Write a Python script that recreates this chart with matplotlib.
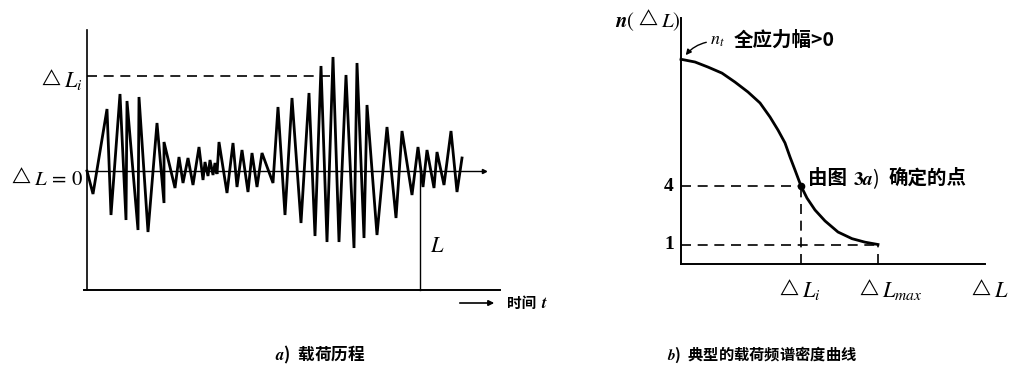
import matplotlib
matplotlib.use('Agg')
import matplotlib.pyplot as plt

plt.rcParams['font.family'] = ['Noto Sans CJK SC', 'DejaVu Sans']
plt.rcParams['mathtext.fontset'] = 'stix'

# a) load history: time t vs load range dL (read off the scan)
time_t = [0, 0.6, 2.0, 2.4, 3.3, 3.9, 4.0, 5.1, 5.2, 6.1,
          7.0, 7.7, 7.7, 8.8, 9.2, 9.6, 10.1, 10.6, 11.2, 11.6,
          11.8, 12.1, 12.3, 12.6, 12.8, 13.0, 13.2, 14.0, 14.6, 15.0,
          15.5, 16.1, 16.5, 17.0, 17.5, 18.6, 19.1, 19.8, 20.5, 21.4,
          22.2, 22.8, 23.4, 24.0, 24.6, 25.2, 25.9, 26.7, 27.0, 27.7,
          28.0, 29.0, 30.0, 30.9, 31.5, 32.5, 33.1, 33.6, 34.0, 34.7,
          35.0, 35.7, 36.4, 37.0, 37.5]
load_dl = [0, -2.3, 6.2, -4.4, 7.7, -4.9, 7.0, -5.9, 7.4, -6.1,
           4.8, -3.2, 2.9, -1.7, 1.4, -1.2, 1.3, -1.4, 2.4, -0.9,
           0.9, -0.5, 1.1, -0.4, 0.8, -0.3, 2.9, -2.2, 2.8, -1.6,
           2.1, -2.1, 1.8, -1.6, 1.8, -1.2, 6.4, -4.4, 7.3, -5.2,
           7.8, -6.5, 10.5, -7.1, 11.4, -7.1, 9.6, -7.7, 10.8, -6.7,
           6.6, -6.4, 4.4, -4.7, 4.0, -2.4, 2.4, -1.6, 2.1, -1.7,
           1.9, -1.4, 4.0, -2.1, 1.3]
dl_i = 9.5          # level of dL_i
t_dli_end = 24.3    # where the dashed dL_i line stops
t_L = 33.3          # record length L
t_end = 39.7
y_top = 14.1
y_bot = -11.9

# b) load spectrum density curve n(dL)
spec_dl = [0, 1.4, 2.7, 4.1, 5.4, 6.7, 7.9, 8.9, 9.7, 10.4,
           10.9, 11.4, 12.0, 12.6, 13.4, 14.4, 15.7, 17.1, 18.4, 19.7]
spec_n = [10.5, 10.36, 10.1, 9.79, 9.33, 8.82, 8.26, 7.54, 6.87, 6.21,
          5.49, 4.82, 4.0, 3.38, 2.77, 2.21, 1.64, 1.3, 1.12, 1.0]
dl_point = 12.0
n_point = 4
dl_max = 19.7
n_max = 1
n_axis_top = 12.6
dl_axis_end = 30.4


def dl_label(axis, x, y, suffix, prefix=None, size=15, tri=12):
    # triangle + italic L, the triangle sits on the baseline at (x, y)
    tri_t = axis.text(x, y, r'$\triangle$', fontsize=tri, ha='left',
                      va='baseline', clip_on=False)
    axis.annotate(suffix, xy=(1, 0), xycoords=tri_t, xytext=(1.5, 0),
                  textcoords='offset points', fontsize=size, ha='left',
                  va='baseline')
    if prefix:
        axis.annotate(prefix, xy=(0, 0), xycoords=tri_t, xytext=(-1, 0),
                      textcoords='offset points', fontsize=size, ha='right',
                      va='baseline')


fig = plt.figure(figsize=(10.1, 3.69), dpi=100)
W, H = 1010, 369

# ---------- panel a ----------
ax = fig.add_axes([60 / W, 1 - 300 / H, 500 / W, 280 / H])
ax.set_xlim(-2.7, 47.3)
ax.set_ylim(-12.9, 15.1)
ax.axis('off')
ax.plot([0, 0], [y_bot, y_top], color='black', lw=1.2)
ax.plot([-0.3, 41.3], [y_bot, y_bot], color='black', lw=1.4)
ax.plot([0, t_end], [0, 0], color='black', lw=1.0)
ax.plot([t_end], [0], marker='>', ms=3, color='black')
ax.plot([0, t_dli_end], [dl_i, dl_i], color='black', lw=1.2, dashes=(6, 4))
ax.plot([t_L, t_L], [0, y_bot], color='black', lw=1.0)
ax.plot(time_t, load_dl, color='black', lw=2.0, solid_joinstyle='miter')

dl_label(ax, -4.8, 8.8, r'$L_i$', size=16)
dl_label(ax, -7.8, -1.0, r'$L\,=\,0$', size=15)
ax.text(35.0, -7.4, r'$L$', fontsize=16, ha='center', va='center')
ax.annotate('', xy=(41.0, -13.2), xytext=(37.0, -13.2),
            arrowprops=dict(arrowstyle='-|>', color='black', lw=1.2,
                            mutation_scale=8), annotation_clip=False)
ax.text(42.0, -13.2, '时间 ', fontsize=10.5, fontweight='bold', ha='left',
        va='center', clip_on=False)
ax.text(45.4, -13.2, r'$\boldsymbol{t}$', fontsize=12, ha='left',
        va='center', clip_on=False)

# ---------- panel b ----------
bx = fig.add_axes([600 / W, 1 - 300 / H, 410 / W, 300 / H])
bx.set_xlim(-8.1, 32.9)
bx.set_ylim(-1.846, 13.54)
bx.axis('off')
bx.plot([0, 0], [0, n_axis_top], color='black', lw=1.4)
bx.plot([0, dl_axis_end], [0, 0], color='black', lw=1.4)
bx.plot(spec_dl, spec_n, color='black', lw=2.0)
bx.plot([0, dl_point], [n_point, n_point], color='black', lw=1.2, dashes=(6, 4))
bx.plot([dl_point, dl_point], [0, n_point], color='black', lw=1.2, dashes=(6, 4))
bx.plot([0, dl_max], [n_max, n_max], color='black', lw=1.2, dashes=(6, 4))
bx.plot([dl_max, dl_max], [0, n_max], color='black', lw=1.2, dashes=(6, 4))
bx.plot([dl_point], [n_point], 'o', color='black', ms=4.5)

dl_label(bx, -4.5, 12.35, r'$L)$', prefix=r'$\boldsymbol{n}($', size=15)
bx.annotate('', xy=(0.3, 10.6), xytext=(2.8, 11.4),
            arrowprops=dict(arrowstyle='-|>', color='black', lw=1.0,
                            connectionstyle='arc3,rad=0.2', mutation_scale=8))
bx.text(2.9, 11.5, r'$\boldsymbol{n_t}$', fontsize=13, ha='left', va='center')
bx.text(5.3, 11.5, '全应力幅>0', fontsize=14, fontweight='bold',
        ha='left', va='center')
bx.text(12.7, 4.4, '由图', fontsize=14, fontweight='bold', ha='left',
        va='center')
bx.text(17.2, 4.4, r'$\boldsymbol{3a}$)', fontsize=14, ha='left', va='center')
bx.text(20.8, 4.4, '确定的点', fontsize=14, fontweight='bold', ha='left',
        va='center')
bx.text(-1.2, n_point, '4', fontsize=14, ha='center', va='center',
        family='Liberation Serif', fontweight='bold')
bx.text(-1.2, n_max, '1', fontsize=14, ha='center', va='center',
        family='Liberation Serif', fontweight='bold')
dl_label(bx, 9.6, -1.5, r'$L_i$', size=16)
dl_label(bx, 17.6, -1.5, r'$L_{max}$', size=16)
dl_label(bx, 28.8, -1.5, r'$L$', size=16)

# captions
fig.text(320 / W, 1 - 355 / H, r'$\boldsymbol{a}$)  载荷历程', fontsize=12,
         fontweight='bold', ha='center', va='center')
fig.text(762 / W, 1 - 355 / H, r'$\boldsymbol{b}$)  典型的载荷频谱密度曲线',
         fontsize=11, fontweight='bold', ha='center', va='center')

fig.savefig('out.png', dpi=100, facecolor='white')
